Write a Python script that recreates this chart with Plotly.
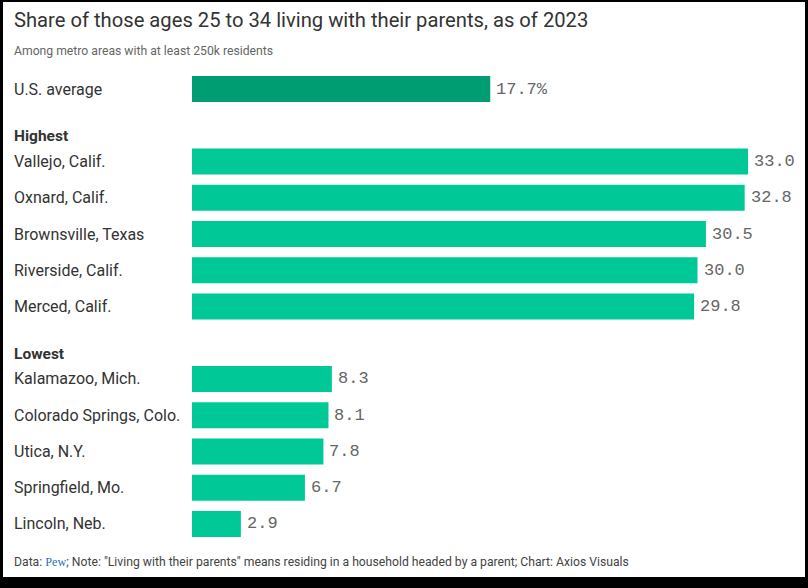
import plotly.graph_objects as go

# ---- data ----
avg_label = "U.S. average"
avg_value = 17.7
highest_header = "Highest"
highest_labels = ["Vallejo, Calif.", "Oxnard, Calif.", "Brownsville, Texas", "Riverside, Calif.", "Merced, Calif."]
highest_values = [33.0, 32.8, 30.5, 30.0, 29.8]
lowest_header = "Lowest"
lowest_labels = ["Kalamazoo, Mich.", "Colorado Springs, Colo.", "Utica, N.Y.", "Springfield, Mo.", "Lincoln, Neb."]
lowest_values = [8.3, 8.1, 7.8, 6.7, 2.9]

title_text = "Share of those ages 25 to 34 living with their parents, as of 2023"
subtitle_text = "Among metro areas with at least 250k residents"
footer_text = ('Data: <span style="color:#2f6fc1;font-family:\'Liberation Serif\'">Pew</span>; '
               'Note: "Living with their parents" means residing in a household headed by a parent; '
               'Chart: Axios Visuals')

# ---- layout geometry ----
W, H = 808, 588
ML, MR, MT, MB = 192, 18, 71, 46
PW, PH = W - ML - MR, H - MT - MB
PX_PER_UNIT = 16.85
XMAX = PW / PX_PER_UNIT

def px_x(px):
    return (px - ML) / PW

def px_y(py):
    return (H - MB - py) / PH

rows = [avg_label, highest_header] + highest_labels + [lowest_header] + lowest_labels
values = [avg_value, None] + highest_values + [None] + lowest_values
colors = ["#009c72", "#ffffff"] + ["#00c896"] * len(highest_values) + ["#ffffff"] + ["#00c896"] * len(lowest_values)

fig = go.Figure()
fig.add_trace(go.Bar(
    x=values, y=rows, orientation="h",
    marker=dict(color=colors, line=dict(width=0)),
    hoverinfo="skip",
))

LABEL_FONT = "Roboto"
MONO_FONT = "Liberation Mono"

annotations = []
# row labels
for lab in [avg_label] + highest_labels + lowest_labels:
    annotations.append(dict(
        x=px_x(12), xref="paper", y=lab, yref="y", xanchor="left", yanchor="middle",
        text=lab, showarrow=False, font=dict(family=LABEL_FONT, size=16, color="#333333"),
    ))
# headers
for hdr in [highest_header, lowest_header]:
    annotations.append(dict(
        x=px_x(12), xref="paper", y=hdr, yref="y", xanchor="left", yanchor="middle", yshift=-11,
        text="<b>" + hdr + "</b>", showarrow=False, font=dict(family=LABEL_FONT, size=15.5, color="#333333"),
    ))
# value labels
annotations.append(dict(
    x=avg_value, y=avg_label, xref="x", yref="y", xanchor="left", yanchor="middle", xshift=4,
    text=f"{avg_value:.1f}%", showarrow=False, font=dict(family=MONO_FONT, size=17, color="#666666"),
))
for lab, v in zip(highest_labels + lowest_labels, highest_values + lowest_values):
    annotations.append(dict(
        x=v, y=lab, xref="x", yref="y", xanchor="left", yanchor="middle", xshift=4,
        text=f"{v:.1f}", showarrow=False, font=dict(family=MONO_FONT, size=17, color="#666666"),
    ))
# title, subtitle, footer
annotations.append(dict(
    x=px_x(12), y=px_y(20), xref="paper", yref="paper", xanchor="left", yanchor="middle",
    text=title_text, showarrow=False, font=dict(family=LABEL_FONT, size=20.2, color="#333333"),
))
annotations.append(dict(
    x=px_x(12), y=px_y(51), xref="paper", yref="paper", xanchor="left", yanchor="middle",
    text=subtitle_text, showarrow=False, font=dict(family=LABEL_FONT, size=12.2, color="#666666"),
))
annotations.append(dict(
    x=px_x(12), y=px_y(562), xref="paper", yref="paper", xanchor="left", yanchor="middle",
    text=footer_text, showarrow=False, font=dict(family=LABEL_FONT, size=12.2, color="#444444"),
))

fig.update_layout(
    width=W, height=H,
    margin=dict(l=ML, r=MR, t=MT, b=MB, pad=0),
    paper_bgcolor="#000000",
    plot_bgcolor="#ffffff",
    showlegend=False,
    bargap=0.282,
    xaxis=dict(range=[0, XMAX], visible=False, fixedrange=True),
    yaxis=dict(categoryorder="array", categoryarray=rows, autorange="reversed",
               visible=False, fixedrange=True),
    annotations=annotations,
    shapes=[dict(type="rect", xref="paper", yref="paper",
                 x0=px_x(3), x1=px_x(805), y0=px_y(577), y1=px_y(2),
                 fillcolor="#ffffff", line=dict(width=0), layer="below")],
)

fig.write_html("out.html", config={"displayModeBar": False},
               post_script="document.body.style.margin='0';document.body.style.background='#000';")
